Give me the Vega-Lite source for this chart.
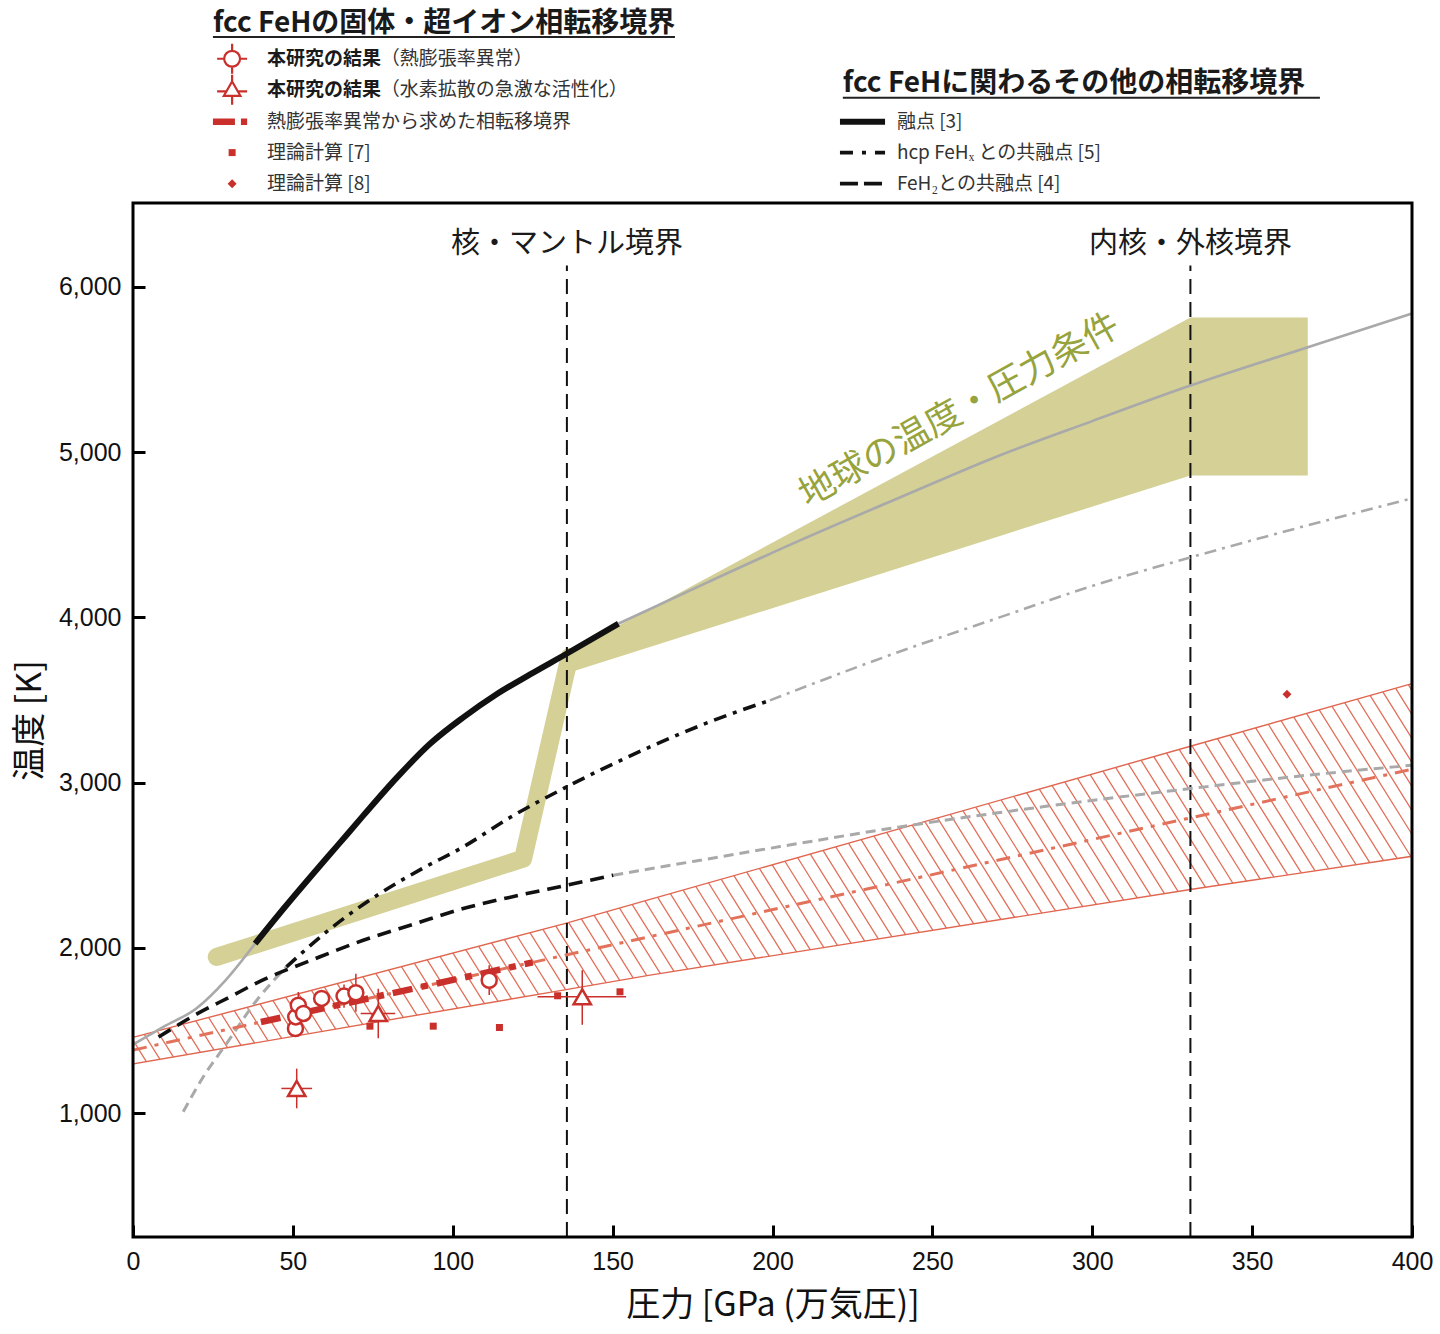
{
  "$schema": "https://vega.github.io/schema/vega-lite/v6.json",
  "width": 1279,
  "height": 1034,
  "autosize": {"type": "none"},
  "padding": {"left": 133, "top": 203, "right": 28, "bottom": 97},
  "background": "white",
  "config": {
    "view": {"stroke": null},
    "axis": {
      "domain": false,
      "grid": false,
      "zindex": 2,
      "tickSize": -12,
      "tickWidth": 3,
      "tickColor": "black",
      "labelFont": "Liberation Sans",
      "labelFontSize": 25,
      "labelColor": "#111111",
      "labelPadding": 24,
      "labelFlush": false,
      "titleFont": "Noto Sans CJK JP",
      "titleFontSize": 34,
      "titleFontWeight": "normal",
      "titleColor": "#111111"
    }
  },
  "datasets": {
    "frame": [
      {"p": 0, "p2": 400, "t": 250, "t2": 6508}
    ],
    "band": [
      {"p": 0, "top": 1458, "bot": 1298},
      {"p": 135, "top": 2147, "bot": 1746},
      {"p": 161.7, "top": 2293, "bot": 1835},
      {"p": 330.7, "top": 3220, "bot": 2353},
      {"p": 400, "top": 3599, "bot": 2554}
    ],
    "hatch": [
      {"p": -60, "t": -915},
      {"p": 460, "t": 5371}
    ],
    "wedge": [
      {"p": 136, "top": 3785, "bot": 3663},
      {"p": 330.7, "top": 5815, "bot": 4859},
      {"p": 367.4, "top": 5815, "bot": 4859}
    ],
    "olivepath": [
      {"p": 26.2, "t": 1945},
      {"p": 122, "t": 2540},
      {"p": 136.5, "t": 3760}
    ],
    "bounds": [
      {"p": 135.7, "tlo": 250, "thi": 6130, "tl": 6262, "label": "核・マントル境界"},
      {"p": 330.7, "tlo": 250, "thi": 6130, "tl": 6262, "label": "内核・外核境界"}
    ],
    "curves": [
      {"s": "mg1", "p": 0, "t": 1415}, {"s": "mg1", "p": 9.5, "t": 1522}, {"s": "mg1", "p": 19.9, "t": 1635}, {"s": "mg1", "p": 29, "t": 1805}, {"s": "mg1", "p": 38.2, "t": 2026},
      {"s": "mb", "p": 38.2, "t": 2026}, {"s": "mb", "p": 47, "t": 2235}, {"s": "mb", "p": 56.4, "t": 2450}, {"s": "mb", "p": 64, "t": 2620}, {"s": "mb", "p": 72, "t": 2800}, {"s": "mb", "p": 82.5, "t": 3030}, {"s": "mb", "p": 92.9, "t": 3235}, {"s": "mb", "p": 103.3, "t": 3395}, {"s": "mb", "p": 113.7, "t": 3535}, {"s": "mb", "p": 124.2, "t": 3655}, {"s": "mb", "p": 135.6, "t": 3780}, {"s": "mb", "p": 151.8, "t": 3962},
      {"s": "mg2", "p": 151.8, "t": 3962}, {"s": "mg2", "p": 180, "t": 4215}, {"s": "mg2", "p": 208.6, "t": 4466}, {"s": "mg2", "p": 240, "t": 4727}, {"s": "mg2", "p": 271, "t": 4980}, {"s": "mg2", "p": 300, "t": 5188}, {"s": "mg2", "p": 330.7, "t": 5403}, {"s": "mg2", "p": 365, "t": 5620}, {"s": "mg2", "p": 400, "t": 5839},
      {"s": "hg1", "p": 15.7, "t": 1008}, {"s": "hg1", "p": 22, "t": 1220}, {"s": "hg1", "p": 29.3, "t": 1422}, {"s": "hg1", "p": 38.7, "t": 1683}, {"s": "hg1", "p": 48, "t": 1885},
      {"s": "hb", "p": 48, "t": 1885}, {"s": "hb", "p": 62, "t": 2120}, {"s": "hb", "p": 77.2, "t": 2329}, {"s": "hb", "p": 90, "t": 2475}, {"s": "hb", "p": 103.3, "t": 2611}, {"s": "hb", "p": 118, "t": 2790}, {"s": "hb", "p": 134.6, "t": 2964}, {"s": "hb", "p": 161.7, "t": 3216}, {"s": "hb", "p": 180, "t": 3365}, {"s": "hb", "p": 199.2, "t": 3498},
      {"s": "hg2", "p": 199.2, "t": 3498}, {"s": "hg2", "p": 235, "t": 3760}, {"s": "hg2", "p": 271, "t": 4000}, {"s": "hg2", "p": 300, "t": 4190}, {"s": "hg2", "p": 330.7, "t": 4363}, {"s": "hg2", "p": 365, "t": 4545}, {"s": "hg2", "p": 400, "t": 4720},
      {"s": "fb", "p": 8, "t": 1460}, {"s": "fb", "p": 20, "t": 1600}, {"s": "fb", "p": 30.3, "t": 1703}, {"s": "fb", "p": 40, "t": 1800}, {"s": "fb", "p": 56.4, "t": 1930}, {"s": "fb", "p": 72, "t": 2046}, {"s": "fb", "p": 88, "t": 2145}, {"s": "fb", "p": 103.3, "t": 2238}, {"s": "fb", "p": 120, "t": 2315}, {"s": "fb", "p": 135.6, "t": 2379}, {"s": "fb", "p": 150.2, "t": 2440},
      {"s": "fg", "p": 150.2, "t": 2440}, {"s": "fg", "p": 177.3, "t": 2530}, {"s": "fg", "p": 200, "t": 2605}, {"s": "fg", "p": 239.9, "t": 2732}, {"s": "fg", "p": 285, "t": 2855}, {"s": "fg", "p": 330.7, "t": 2964}, {"s": "fg", "p": 365, "t": 3040}, {"s": "fg", "p": 400, "t": 3105},
      {"s": "rt", "p": 0, "t": 1381}, {"s": "rt", "p": 400, "t": 3081},
      {"s": "rk", "p": 40, "t": 1551}, {"s": "rk", "p": 125, "t": 1912}
    ],
    "circles": [
      {"p": 50.8, "t": 1512},
      {"p": 50.9, "t": 1582},
      {"p": 51.7, "t": 1653, "tlo": 1573, "thi": 1733},
      {"p": 53.3, "t": 1603},
      {"p": 59.0, "t": 1694},
      {"p": 66.0, "t": 1708, "tlo": 1638, "thi": 1778},
      {"p": 69.7, "t": 1728, "tlo": 1613, "thi": 1843},
      {"p": 111.4, "t": 1804, "tlo": 1714, "thi": 1894}
    ],
    "triangles": [
      {"p": 51.2, "t": 1149, "plo": 46.4, "phi": 56.0, "tlo": 1029, "thi": 1269},
      {"p": 76.7, "t": 1603, "plo": 71.2, "phi": 82.0, "tlo": 1453, "thi": 1753},
      {"p": 140.5, "t": 1704, "plo": 126.5, "phi": 154.2, "tlo": 1535, "thi": 1865}
    ],
    "theory7": [
      {"p": 74.1, "t": 1526}, {"p": 93.9, "t": 1526}, {"p": 114.6, "t": 1518}, {"p": 132.8, "t": 1710}, {"p": 152.3, "t": 1734}
    ],
    "theory8": [
      {"p": 360.9, "t": 3535}
    ],
    "earth": [
      {"p": 258.5, "t": 5252, "label": "地球の温度・圧力条件"}
    ],
    "legtext": [
      {"g": "title", "p": 25.0, "t": 7592, "label": "fcc FeHの固体・超イオン相転移境界"},
      {"g": "title", "p": 222.0, "t": 7230, "label": "fcc FeHに関わるその他の相転移境界"},
      {"g": "bold", "p": 41.9, "t": 7381, "label": "本研究の結果"},
      {"g": "bold", "p": 41.9, "t": 7193, "label": "本研究の結果"},
      {"g": "normal", "p": 77.5, "t": 7381, "label": "（熱膨張率異常）"},
      {"g": "normal", "p": 77.5, "t": 7193, "label": "（水素拡散の急激な活性化）"},
      {"g": "normal", "p": 41.9, "t": 7000, "label": "熱膨張率異常から求めた相転移境界"},
      {"g": "normal", "p": 41.9, "t": 6813, "label": "理論計算 [7]"},
      {"g": "normal", "p": 41.9, "t": 6625, "label": "理論計算 [8]"},
      {"g": "normal", "p": 238.9, "t": 7000, "label": "融点 [3]"},
      {"g": "normal", "p": 238.9, "t": 6813, "label": "hcp FeHₓ との共融点 [5]"},
      {"g": "normal", "p": 238.9, "t": 6625, "label": "FeH₂との共融点 [4]"}
    ],
    "legrules": [
      {"g": "underline", "p": 25.0, "p2": 169.5, "t": 7512},
      {"g": "underline", "p": 222.0, "p2": 371.2, "t": 7145},
      {"g": "redthick", "p": 25.0, "p2": 35.7, "t": 7000},
      {"g": "solid", "p": 221.1, "p2": 235.2, "t": 7000},
      {"g": "dashdot", "p": 221.1, "p2": 235.2, "t": 6813},
      {"g": "dashed", "p": 221.1, "p2": 235.2, "t": 6625}
    ],
    "legsym": [
      {"g": "circle", "p": 31.0, "t": 7381},
      {"g": "triangle", "p": 31.0, "t": 7193},
      {"g": "square", "p": 31.0, "t": 6813},
      {"g": "diamond", "p": 31.0, "t": 6625}
    ]
  },
  "layer": [
    {
      "data": {"name": "hatch"},
      "mark": {"type": "line", "color": "#e2705a", "strokeWidth": 720, "strokeDash": [1.3, 11.4], "strokeCap": "butt", "clip": true},
      "encoding": {
        "x": {"field": "p", "type": "quantitative", "scale": {"domain": [0, 400], "nice": false, "zero": false},
              "axis": {"values": [0, 50, 100, 150, 200, 250, 300, 350, 400], "title": "圧力 [GPa (万気圧)]", "titlePadding": 14, "zindex": 2}},
        "y": {"field": "t", "type": "quantitative", "scale": {"domain": [250, 6508], "nice": false, "zero": false},
              "axis": {"values": [1000, 2000, 3000, 4000, 5000, 6000], "format": ",.0f", "title": "温度 [K]", "titlePadding": 11, "zindex": 2}}
      }
    },
    {
      "data": {"name": "band"},
      "mark": {"type": "area", "fill": "white", "stroke": null, "fillOpacity": 1},
      "encoding": {
        "x": {"field": "p", "type": "quantitative"},
        "y": {"field": "top", "type": "quantitative"},
        "y2": {"datum": 6508}
      }
    },
    {
      "data": {"name": "band"},
      "mark": {"type": "area", "fill": "white", "stroke": null, "fillOpacity": 1},
      "encoding": {
        "x": {"field": "p", "type": "quantitative"},
        "y": {"field": "bot", "type": "quantitative"},
        "y2": {"datum": 250}
      }
    },
    {
      "data": {"name": "band"},
      "mark": {"type": "area", "fill": null, "fillOpacity": 0, "stroke": "#e06650", "strokeWidth": 1.4},
      "encoding": {
        "x": {"field": "p", "type": "quantitative"},
        "y": {"field": "top", "type": "quantitative"},
        "y2": {"field": "bot"}
      }
    },
    {
      "data": {"name": "wedge"},
      "mark": {"type": "area", "fill": "#d4d096", "stroke": null},
      "encoding": {
        "x": {"field": "p", "type": "quantitative"},
        "y": {"field": "top", "type": "quantitative"},
        "y2": {"field": "bot"}
      }
    },
    {
      "data": {"name": "olivepath"},
      "mark": {"type": "line", "color": "#d4d096", "strokeWidth": 18, "strokeCap": "round", "strokeJoin": "round"},
      "encoding": {
        "x": {"field": "p", "type": "quantitative"},
        "y": {"field": "t", "type": "quantitative"}
      }
    },
    {
      "data": {"name": "bounds"},
      "mark": {"type": "rule", "color": "#111111", "strokeWidth": 2, "strokeDash": [15, 8]},
      "encoding": {
        "x": {"field": "p", "type": "quantitative"},
        "y": {"field": "tlo", "type": "quantitative"},
        "y2": {"field": "thi"}
      }
    },
    {
      "data": {"name": "curves"},
      "transform": [{"filter": "datum.s === 'mg1' || datum.s === 'mg2'"}],
      "mark": {"type": "line", "color": "#a9a9a9", "strokeWidth": 2.6, "interpolate": "monotone"},
      "encoding": {
        "x": {"field": "p", "type": "quantitative"},
        "y": {"field": "t", "type": "quantitative"},
        "detail": {"field": "s"}
      }
    },
    {
      "data": {"name": "curves"},
      "transform": [{"filter": "datum.s === 'hg1' || datum.s === 'fg'"}],
      "mark": {"type": "line", "color": "#a9a9a9", "strokeWidth": 3, "strokeDash": [10, 6], "interpolate": "monotone"},
      "encoding": {
        "x": {"field": "p", "type": "quantitative"},
        "y": {"field": "t", "type": "quantitative"},
        "detail": {"field": "s"}
      }
    },
    {
      "data": {"name": "curves"},
      "transform": [{"filter": "datum.s === 'hg2'"}],
      "mark": {"type": "line", "color": "#a9a9a9", "strokeWidth": 2.6, "strokeDash": [12, 6, 3, 6], "interpolate": "monotone"},
      "encoding": {
        "x": {"field": "p", "type": "quantitative"},
        "y": {"field": "t", "type": "quantitative"}
      }
    },
    {
      "data": {"name": "curves"},
      "transform": [{"filter": "datum.s === 'hb'"}],
      "mark": {"type": "line", "color": "#111111", "strokeWidth": 3.6, "strokeDash": [13, 7, 4, 7], "interpolate": "monotone"},
      "encoding": {
        "x": {"field": "p", "type": "quantitative"},
        "y": {"field": "t", "type": "quantitative"}
      }
    },
    {
      "data": {"name": "curves"},
      "transform": [{"filter": "datum.s === 'fb'"}],
      "mark": {"type": "line", "color": "#111111", "strokeWidth": 3.6, "strokeDash": [14, 8], "interpolate": "monotone"},
      "encoding": {
        "x": {"field": "p", "type": "quantitative"},
        "y": {"field": "t", "type": "quantitative"}
      }
    },
    {
      "data": {"name": "curves"},
      "transform": [{"filter": "datum.s === 'mb'"}],
      "mark": {"type": "line", "color": "#111111", "strokeWidth": 6, "interpolate": "monotone"},
      "encoding": {
        "x": {"field": "p", "type": "quantitative"},
        "y": {"field": "t", "type": "quantitative"}
      }
    },
    {
      "data": {"name": "curves"},
      "transform": [{"filter": "datum.s === 'rt'"}],
      "mark": {"type": "line", "color": "#e2725b", "strokeWidth": 3, "strokeDash": [14, 8, 4, 8]},
      "encoding": {
        "x": {"field": "p", "type": "quantitative"},
        "y": {"field": "t", "type": "quantitative"}
      }
    },
    {
      "data": {"name": "curves"},
      "transform": [{"filter": "datum.s === 'rk'"}],
      "mark": {"type": "line", "color": "#c9302c", "strokeWidth": 6.5, "strokeDash": [20, 9, 7, 9]},
      "encoding": {
        "x": {"field": "p", "type": "quantitative"},
        "y": {"field": "t", "type": "quantitative"}
      }
    },
    {
      "data": {"name": "circles"},
      "transform": [{"filter": "isValid(datum.tlo)"}],
      "mark": {"type": "rule", "color": "#c9302c", "strokeWidth": 1.5},
      "encoding": {
        "x": {"field": "p", "type": "quantitative"},
        "y": {"field": "tlo", "type": "quantitative"},
        "y2": {"field": "thi"}
      }
    },
    {
      "data": {"name": "triangles"},
      "mark": {"type": "rule", "color": "#c9302c", "strokeWidth": 1.5},
      "encoding": {
        "x": {"field": "p", "type": "quantitative"},
        "y": {"field": "tlo", "type": "quantitative"},
        "y2": {"field": "thi"}
      }
    },
    {
      "data": {"name": "triangles"},
      "mark": {"type": "rule", "color": "#c9302c", "strokeWidth": 1.5},
      "encoding": {
        "x": {"field": "plo", "type": "quantitative"},
        "x2": {"field": "phi"},
        "y": {"field": "t", "type": "quantitative"}
      }
    },
    {
      "data": {"name": "theory7"},
      "mark": {"type": "point", "shape": "square", "filled": true, "color": "#c9302c", "size": 49, "opacity": 1},
      "encoding": {
        "x": {"field": "p", "type": "quantitative"},
        "y": {"field": "t", "type": "quantitative"}
      }
    },
    {
      "data": {"name": "theory8"},
      "mark": {"type": "point", "shape": "diamond", "filled": true, "color": "#c9302c", "size": 80, "opacity": 1},
      "encoding": {
        "x": {"field": "p", "type": "quantitative"},
        "y": {"field": "t", "type": "quantitative"}
      }
    },
    {
      "data": {"name": "circles"},
      "mark": {"type": "point", "shape": "circle", "filled": true, "fill": "white", "stroke": "#c9302c", "strokeWidth": 2.5, "size": 225, "opacity": 1, "fillOpacity": 1},
      "encoding": {
        "x": {"field": "p", "type": "quantitative"},
        "y": {"field": "t", "type": "quantitative"}
      }
    },
    {
      "data": {"name": "triangles"},
      "mark": {"type": "point", "shape": "triangle-up", "filled": true, "fill": "white", "stroke": "#c9302c", "strokeWidth": 2.5, "size": 300, "opacity": 1, "fillOpacity": 1},
      "encoding": {
        "x": {"field": "p", "type": "quantitative"},
        "y": {"field": "t", "type": "quantitative"}
      }
    },
    {
      "data": {"name": "frame"},
      "mark": {"type": "rect", "fill": null, "fillOpacity": 0, "stroke": "black", "strokeWidth": 3},
      "encoding": {
        "x": {"field": "p", "type": "quantitative"},
        "x2": {"field": "p2"},
        "y": {"field": "t", "type": "quantitative"},
        "y2": {"field": "t2"}
      }
    },
    {
      "data": {"name": "bounds"},
      "mark": {"type": "text", "font": "Noto Sans CJK JP", "fontSize": 29, "color": "#1a1a1a", "align": "center", "baseline": "middle"},
      "encoding": {
        "x": {"field": "p", "type": "quantitative"},
        "y": {"field": "tl", "type": "quantitative"},
        "text": {"field": "label"}
      }
    },
    {
      "data": {"name": "earth"},
      "mark": {"type": "text", "font": "Noto Sans CJK JP", "fontSize": 36, "color": "#97a33c", "align": "center", "baseline": "middle", "angle": 331},
      "encoding": {
        "x": {"field": "p", "type": "quantitative"},
        "y": {"field": "t", "type": "quantitative"},
        "text": {"field": "label"}
      }
    },
    {
      "data": {"name": "legrules"},
      "transform": [{"filter": "datum.g === 'underline'"}],
      "mark": {"type": "rule", "color": "#222222", "strokeWidth": 2},
      "encoding": {
        "x": {"field": "p", "type": "quantitative"},
        "x2": {"field": "p2"},
        "y": {"field": "t", "type": "quantitative"}
      }
    },
    {
      "data": {"name": "legrules"},
      "transform": [{"filter": "datum.g === 'redthick'"}],
      "mark": {"type": "rule", "color": "#c9302c", "strokeWidth": 6.5, "strokeDash": [22, 6, 7, 6]},
      "encoding": {
        "x": {"field": "p", "type": "quantitative"},
        "x2": {"field": "p2"},
        "y": {"field": "t", "type": "quantitative"}
      }
    },
    {
      "data": {"name": "legrules"},
      "transform": [{"filter": "datum.g === 'solid'"}],
      "mark": {"type": "rule", "color": "#111111", "strokeWidth": 6},
      "encoding": {
        "x": {"field": "p", "type": "quantitative"},
        "x2": {"field": "p2"},
        "y": {"field": "t", "type": "quantitative"}
      }
    },
    {
      "data": {"name": "legrules"},
      "transform": [{"filter": "datum.g === 'dashdot'"}],
      "mark": {"type": "rule", "color": "#111111", "strokeWidth": 3.6, "strokeDash": [13, 9, 4, 9]},
      "encoding": {
        "x": {"field": "p", "type": "quantitative"},
        "x2": {"field": "p2"},
        "y": {"field": "t", "type": "quantitative"}
      }
    },
    {
      "data": {"name": "legrules"},
      "transform": [{"filter": "datum.g === 'dashed'"}],
      "mark": {"type": "rule", "color": "#111111", "strokeWidth": 3.6, "strokeDash": [18, 6]},
      "encoding": {
        "x": {"field": "p", "type": "quantitative"},
        "x2": {"field": "p2"},
        "y": {"field": "t", "type": "quantitative"}
      }
    },
    {
      "data": {"name": "legsym"},
      "transform": [{"filter": "datum.g === 'circle'"}],
      "mark": {"type": "point", "shape": "M-0.53,0A0.53,0.53,0,1,1,0.53,0A0.53,0.53,0,1,1,-0.53,0Z M-1,0L-0.53,0 M0.53,0L1,0 M0,-1L0,-0.53 M0,0.53L0,1", "filled": false, "stroke": "#c9302c", "strokeWidth": 2.2, "size": 900, "opacity": 1},
      "encoding": {
        "x": {"field": "p", "type": "quantitative"},
        "y": {"field": "t", "type": "quantitative"}
      }
    },
    {
      "data": {"name": "legsym"},
      "transform": [{"filter": "datum.g === 'triangle'"}],
      "mark": {"type": "point", "shape": "M0,-0.55L0.55,0.4L-0.55,0.4Z M-1,0.1L-0.38,0.1 M0.38,0.1L1,0.1 M0,-1L0,-0.55 M0,0.4L0,1", "filled": false, "stroke": "#c9302c", "strokeWidth": 2.2, "size": 900, "opacity": 1},
      "encoding": {
        "x": {"field": "p", "type": "quantitative"},
        "y": {"field": "t", "type": "quantitative"}
      }
    },
    {
      "data": {"name": "legsym"},
      "transform": [{"filter": "datum.g === 'square'"}],
      "mark": {"type": "point", "shape": "square", "filled": true, "color": "#c9302c", "size": 49, "opacity": 1},
      "encoding": {
        "x": {"field": "p", "type": "quantitative"},
        "y": {"field": "t", "type": "quantitative"}
      }
    },
    {
      "data": {"name": "legsym"},
      "transform": [{"filter": "datum.g === 'diamond'"}],
      "mark": {"type": "point", "shape": "diamond", "filled": true, "color": "#c9302c", "size": 80, "opacity": 1},
      "encoding": {
        "x": {"field": "p", "type": "quantitative"},
        "y": {"field": "t", "type": "quantitative"}
      }
    },
    {
      "data": {"name": "legtext"},
      "transform": [{"filter": "datum.g === 'title'"}],
      "mark": {"type": "text", "font": "Noto Sans CJK JP", "fontSize": 28, "fontWeight": "bold", "color": "#1a1a1a", "align": "left", "baseline": "middle"},
      "encoding": {
        "x": {"field": "p", "type": "quantitative"},
        "y": {"field": "t", "type": "quantitative"},
        "text": {"field": "label"}
      }
    },
    {
      "data": {"name": "legtext"},
      "transform": [{"filter": "datum.g === 'bold'"}],
      "mark": {"type": "text", "font": "Noto Sans CJK JP", "fontSize": 19, "fontWeight": "bold", "color": "#1a1a1a", "align": "left", "baseline": "middle"},
      "encoding": {
        "x": {"field": "p", "type": "quantitative"},
        "y": {"field": "t", "type": "quantitative"},
        "text": {"field": "label"}
      }
    },
    {
      "data": {"name": "legtext"},
      "transform": [{"filter": "datum.g === 'normal'"}],
      "mark": {"type": "text", "font": "Noto Sans CJK JP", "fontSize": 19, "color": "#333333", "align": "left", "baseline": "middle"},
      "encoding": {
        "x": {"field": "p", "type": "quantitative"},
        "y": {"field": "t", "type": "quantitative"},
        "text": {"field": "label"}
      }
    }
  ]
}
